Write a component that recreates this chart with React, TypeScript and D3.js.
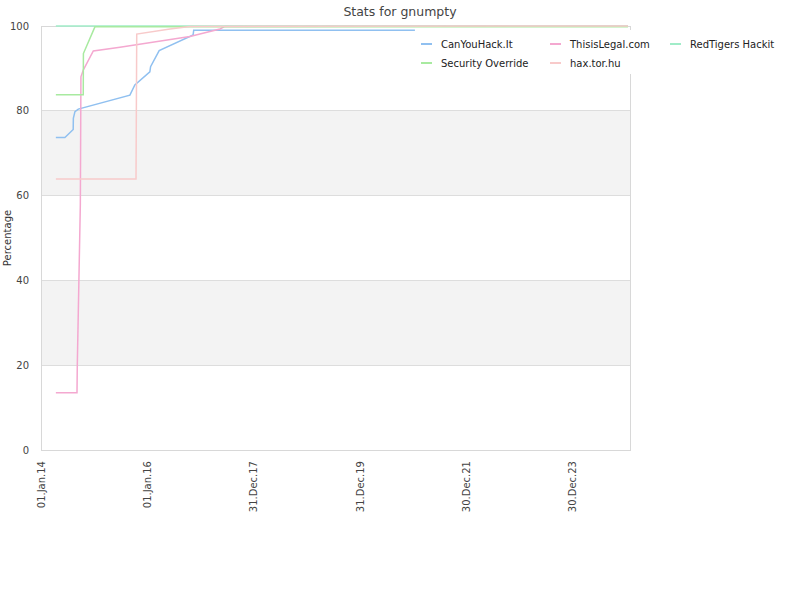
import React from "react";
import * as d3 from "d3";

const seriesNames = ["CanYouHack.It", "ThisisLegal.com", "RedTigers Hackit", "Security Override", "hax.tor.hu"];
const seriesColors = ["#90c0f0", "#f4a8d0", "#a0ecc8", "#a8eaa0", "#f8caca"];

const canYouHackIt: [string, number][] = [
  ["2014-04-13", 73.7], ["2014-06-14", 73.7], ["2014-08-10", 75.6], ["2014-08-11", 78.2],
  ["2014-08-22", 79.8], ["2014-09-14", 80.4], ["2015-09-03", 83.7], ["2015-10-07", 86.1],
  ["2016-01-18", 89.2], ["2016-01-23", 90.4], ["2016-03-22", 94.2], ["2016-11-10", 97.9],
  ["2016-11-14", 99.0], ["2021-01-10", 99.0],
];
const thisisLegal: [string, number][] = [
  ["2014-04-13", 13.5], ["2014-09-05", 13.5], ["2014-09-07", 19.8], ["2014-09-14", 32.5],
  ["2014-09-21", 45.3], ["2014-09-28", 58.0], ["2014-10-02", 88.0], ["2014-10-18", 89.6],
  ["2014-12-26", 94.1], ["2015-06-27", 95.0], ["2016-10-19", 97.5], ["2017-05-13", 99.3],
  ["2017-06-16", 99.9], ["2025-01-11", 100],
];
const redTigers: [string, number][] = [
  ["2014-04-13", 100], ["2025-01-11", 100],
];
const securityOverride: [string, number][] = [
  ["2014-04-13", 83.8], ["2014-10-18", 83.8], ["2014-10-19", 93.5], ["2015-01-06", 99.8],
  ["2025-01-11", 99.8],
];
const haxTorHu: [string, number][] = [
  ["2014-04-13", 63.9], ["2015-10-15", 63.9], ["2015-10-20", 98.1], ["2016-06-04", 99.3],
  ["2016-10-19", 99.9], ["2025-01-11", 100],
];
const seriesData = [canYouHackIt, thisisLegal, redTigers, securityOverride, haxTorHu];

const xTickDates = ["2014-01-01", "2016-01-01", "2017-12-31", "2019-12-31", "2021-12-30", "2023-12-30"];
const yTicks = [0, 20, 40, 60, 80, 100];

const parse = d3.timeParse("%Y-%m-%d");
const fmt = d3.timeFormat("%d.%b.%y");

export default function App() {
  const left = 41, right = 630, top = 26, bottom = 450;
  const x = d3.scaleTime().domain([parse("2014-01-01")!, parse("2025-01-25")!]).range([left, right]);
  const y = d3.scaleLinear().domain([0, 100]).range([bottom, top]);
  const line = d3.line<[string, number]>().x((d) => x(parse(d[0])!)).y((d) => y(d[1]));
  const font = "DejaVu Sans, sans-serif";
  const bands = [[20, 40], [60, 80]];
  const legendPos = [
    [421, 44], [550, 44], [670, 44], [421, 63], [550, 63],
  ];
  return (
    <svg width={800} height={600} style={{ position: "absolute", left: 0, top: 0 }} fontFamily={font}>
      <rect width={800} height={600} fill="#fff" />
      <text x={400} y={16} textAnchor="middle" fontSize={12.5} fill="#444">Stats for gnumpty</text>
      {bands.map((b, i) => (
        <rect key={i} x={left} y={y(b[1])} width={right - left} height={y(b[0]) - y(b[1])} fill="#f3f3f3" />
      ))}
      {yTicks.map((t) => (
        <line key={t} x1={left} x2={right} y1={y(t)} y2={y(t)} stroke="#dddddd" strokeWidth={1} shapeRendering="crispEdges" />
      ))}
      <rect x={left} y={top} width={right - left} height={bottom - top} fill="none" stroke="#d8d8d8" strokeWidth={1} shapeRendering="crispEdges" />
      {yTicks.map((t) => (
        <text key={t} x={29} y={y(t) + 3.5} textAnchor="end" fontSize={10} fill="#444">{t}</text>
      ))}
      <text transform={`translate(11,${(top + bottom) / 2}) rotate(-90)`} textAnchor="middle" fontSize={10} fill="#333">Percentage</text>
      {xTickDates.map((d) => {
        const px = x(parse(d)!);
        return (
          <text key={d} transform={`translate(${px + 3.5},461) rotate(-90)`} textAnchor="end" fontSize={10} fill="#444">{fmt(parse(d)!)}</text>
        );
      })}
      {seriesData.map((s, i) => (
        <path key={i} d={line(s) || ""} fill="none" stroke={seriesColors[i]} strokeWidth={1.5} />
      ))}
      <rect x={418} y={30} width={372} height={44} fill="#fff" />
      {seriesNames.map((n, i) => (
        <g key={n}>
          <line x1={legendPos[i][0]} x2={legendPos[i][0] + 11} y1={legendPos[i][1]} y2={legendPos[i][1]} stroke={seriesColors[i]} strokeWidth={2} />
          <text x={legendPos[i][0] + 20} y={legendPos[i][1] + 3.5} fontSize={10} fill="#222">{n}</text>
        </g>
      ))}
    </svg>
  );
}
